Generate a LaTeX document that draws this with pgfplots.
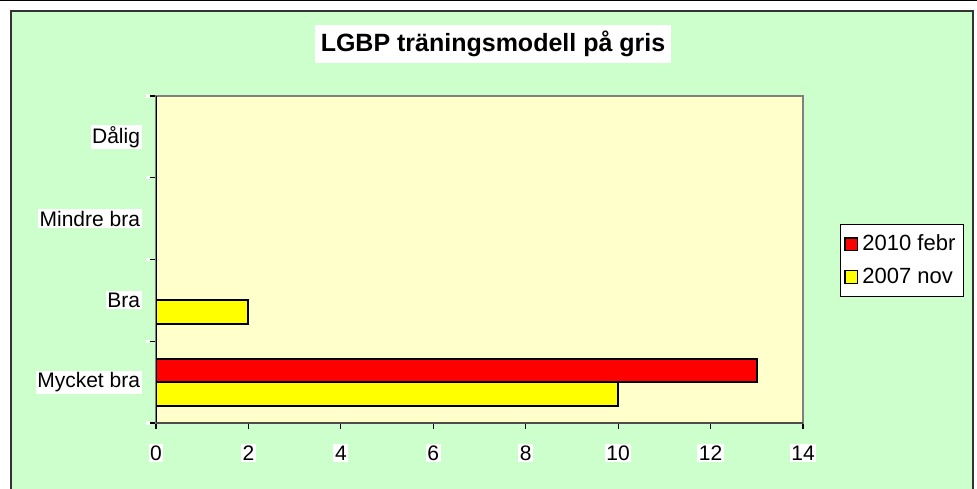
\documentclass[border=0pt]{standalone}
\usepackage{fontspec}
\setmainfont{Liberation Sans}
\usepackage{pgfplots}
\pgfplotsset{compat=1.18}
\definecolor{bggreen}{HTML}{CCFFCC}
\definecolor{plotyellow}{HTML}{FFFFCC}
\definecolor{barred}{HTML}{FF0000}
\definecolor{baryellow}{HTML}{FFFF00}
\definecolor{framegray}{HTML}{333333}
\begin{document}
\begin{tikzpicture}[x=0.5pt,y=0.5pt]
  \useasboundingbox (0,0) rectangle (977,488);
  % page background and chart area
  \begin{scope}
    \clip (0,0) rectangle (977,488);
    \fill[white] (0,0) rectangle (977,488);
    \draw[black, line width=1pt] (0,487.5) -- (977,487.5);
    \filldraw[fill=bggreen, draw=framegray, line width=1pt] (11,-10) rectangle (973,477);
  \end{scope}
  % title
  \node[fill=white, inner xsep=3pt, inner ysep=3pt, font=\fontsize{12.5}{14}\selectfont\bfseries]
    at (493,444) {LGBP träningsmodell på gris};
  \begin{axis}[
      at={(78pt,32.5pt)}, anchor=south west,
      scale only axis,
      width=323.5pt, height=163.5pt,
      xbar,
      bar width=11.75pt,
      xmin=0, xmax=14,
      ymin=-0.5, ymax=3.5,
      xtick={0,2,...,14},
      ytick={-0.5,0.5,1.5,2.5,3.5},
      yticklabels={},
      extra y ticks={0,1,2,3},
      extra y tick labels={Mycket bra,Bra,Mindre bra,Dålig},
      extra y tick style={major tick length=0pt, tick label style={xshift=-7pt}},
      tick align=outside,
      xtick pos=lower, ytick pos=left,
      major tick length=3pt,
      tick style={black, line width=0.6pt},
      axis line style={draw=gray, line width=1pt},
      axis background/.style={fill=plotyellow},
      /pgf/number format/assume math mode=true,
      tick label style={font=\fontsize{10.5}{12}\selectfont, fill=white, inner sep=0.8pt},
      xticklabel style={yshift=-7.5pt},
      legend style={at={(1.057,0.497)}, anchor=west, draw=black, line width=0.5pt,
        fill=white, font=\fontsize{11}{13}\selectfont,
        row sep=3pt, inner xsep=2pt, inner ysep=3pt,
        legend cell align=left},
      legend image code/.code={
        \draw[#1, draw=black, line width=0.6pt] (0pt,-3.2pt) rectangle (6.4pt,3.2pt);
      },
    ]
    \addplot[fill=barred, draw=black, line width=1pt, bar shift=5.875pt]
      coordinates {(13,0) (0,1) (0,2) (0,3)};
    \addlegendentry{2010 febr}
    \addplot[fill=baryellow, draw=black, line width=1pt, bar shift=-5.875pt]
      coordinates {(10,0) (2,1) (0,2) (0,3)};
    \addlegendentry{2007 nov}
    \draw[black, line width=1pt] (rel axis cs:0,0) -- (rel axis cs:0,1);
    \draw[black!70, line width=1pt] (rel axis cs:0,0) -- (rel axis cs:1,0);
  \end{axis}
\end{tikzpicture}
\end{document}
